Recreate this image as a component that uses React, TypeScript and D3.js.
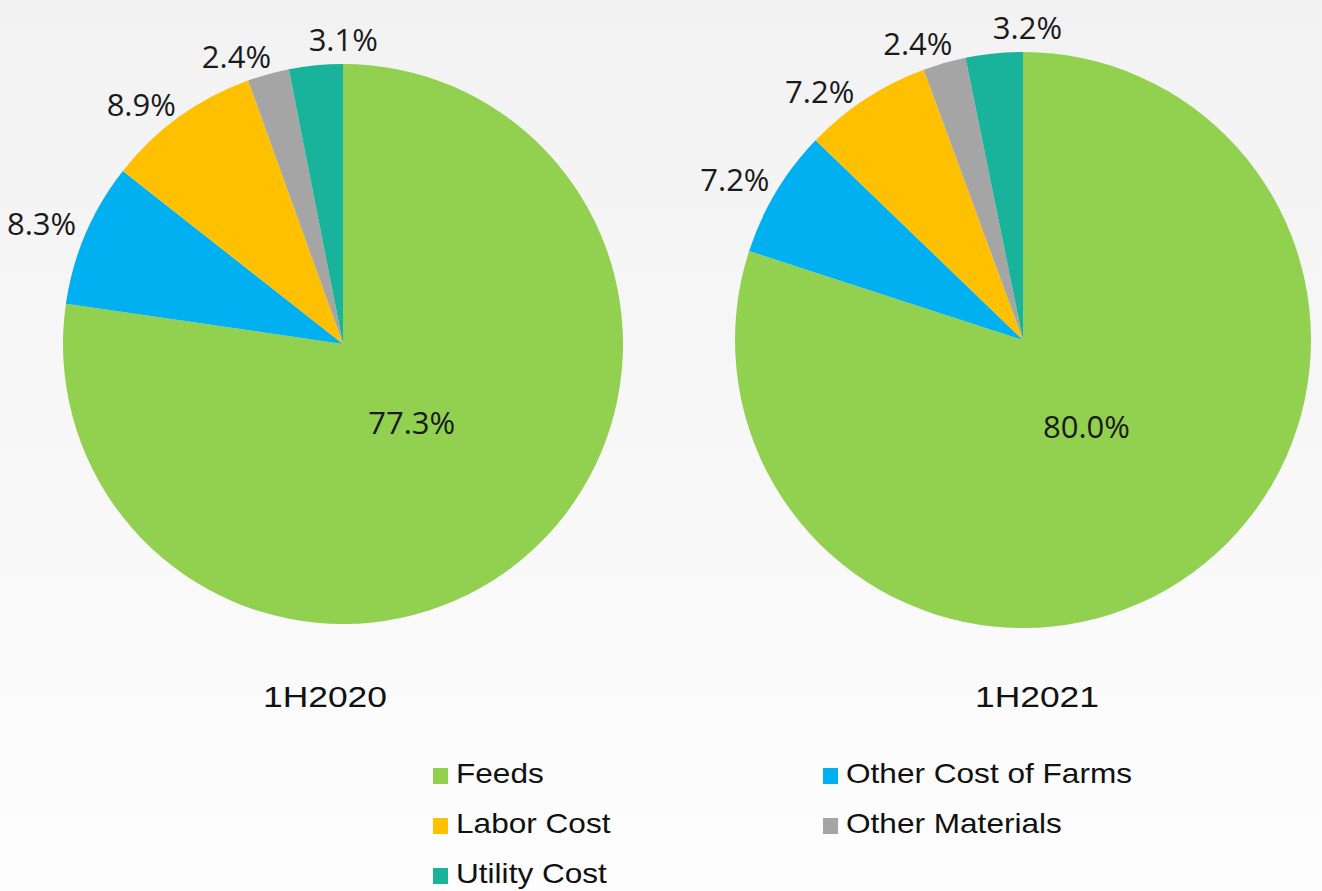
import React from "react";
import * as d3 from "d3";

const categories = ["Feeds", "Other Cost of Farms", "Labor Cost", "Other Materials", "Utility Cost"];
const colors = ["#92D050", "#00B0F0", "#FFC000", "#A5A5A5", "#19B39B"];
const periods = ["1H2020", "1H2021"];
const values2020 = [77.3, 8.3, 8.9, 2.4, 3.1];
const values2021 = [80.0, 7.2, 7.2, 2.4, 3.2];
const seriesValues = [values2020, values2021];

const W = 1322;
const H = 891;
const pieLayout = [
  { cx: 343, cy: 344, r: 280, titleX: 325 },
  { cx: 1023, cy: 340, r: 288, titleX: 1037 },
];
const titleY = 707;
const labelFont = "'Open Sans', 'Noto Sans', sans-serif";
const labelSize = 31;
const textFont = "'Liberation Sans', Arial, sans-serif";
const fmt = (v: number) => d3.format(".1f")(v) + "%";

function outerLabels(arcs: d3.PieArcDatum<number>[], r: number) {
  // mid angles normalised to (-pi, pi]
  const items = arcs.slice(1).map((a) => {
    let m = (a.startAngle + a.endAngle) / 2;
    if (m > Math.PI) m -= 2 * Math.PI;
    return { arc: a, angle: m };
  });
  items.sort((a, b) => b.angle - a.angle);
  const minSep = (19 * Math.PI) / 180;
  for (let k = 0; k < 200; k++) {
    for (let i = 0; i < items.length - 1; i++) {
      const gap = items[i].angle - items[i + 1].angle;
      if (gap < minSep) {
        const push = (minSep - gap) / 2;
        items[i].angle += push;
        items[i + 1].angle -= push;
      }
    }
  }
  const gapR = 12;
  const h = 23;
  return items.map((it) => {
    const label = fmt(it.arc.data);
    const w = label.length * 18;
    const s = Math.sin(it.angle);
    const c = -Math.cos(it.angle);
    const x = (r + gapR) * s + (s * w) / 2;
    const y = (r + gapR) * c + (c * h) / 2;
    return { x, y, label };
  });
}

export default function App() {
  const pie = d3.pie<number>().sort(null).value((d) => d);
  return (
    <svg
      width={W}
      height={H}
      viewBox={`0 0 ${W} ${H}`}
      style={{ position: "absolute", left: 0, top: 0, display: "block" }}
    >
      <defs>
        <linearGradient id="bg" x1="0" y1="0" x2="0" y2="1">
          <stop offset="0" stopColor="#f2f2f2" />
          <stop offset="1" stopColor="#fdfdfd" />
        </linearGradient>
      </defs>
      <rect x={0} y={0} width={W} height={H} fill="url(#bg)" />
      {seriesValues.map((vals, pi) => {
        const L = pieLayout[pi];
        const arcs = pie(vals);
        const arcGen = d3.arc<d3.PieArcDatum<number>>().innerRadius(0).outerRadius(L.r);
        const first = arcs[0];
        const inner = d3
          .arc<d3.PieArcDatum<number>>()
          .innerRadius(0)
          .outerRadius(L.r * 0.75)
          .centroid(first);
        const labels = outerLabels(arcs, L.r);
        return (
          <g key={pi}>
            <g transform={`translate(${L.cx},${L.cy})`}>
              {arcs.map((a, i) => (
                <path key={i} d={arcGen(a) || ""} fill={colors[i]} />
              ))}
              <text
                x={inner[0]}
                y={inner[1]}
                dy="0.35em"
                textAnchor="middle"
                fontFamily={labelFont}
                fontSize={labelSize}
                fill="#1a1a1a"
              >
                {fmt(first.data)}
              </text>
              {labels.map((l, i) => (
                <text
                  key={i}
                  x={l.x}
                  y={l.y}
                  dy="0.35em"
                  textAnchor="middle"
                  fontFamily={labelFont}
                  fontSize={labelSize}
                  fill="#1a1a1a"
                >
                  {l.label}
                </text>
              ))}
            </g>
            <g transform={`translate(${L.titleX},${titleY}) scale(1.18,1)`}>
              <text x={0} y={0} textAnchor="middle" fontFamily={textFont} fontSize={30} fill="#111">
                {periods[pi]}
              </text>
            </g>
          </g>
        );
      })}
      {categories.map((c, i) => {
        const col = i % 2;
        const row = Math.floor(i / 2);
        const x = [433, 823][col];
        const y = 768 + row * 50;
        return (
          <g key={c}>
            <rect x={x} y={y} width={15} height={16} fill={colors[i]} />
            <g transform={`translate(${x + 23},${y + 15}) scale(1.17,1)`}>
              <text x={0} y={0} fontFamily={textFont} fontSize={27} fill="#111">
                {c}
              </text>
            </g>
          </g>
        );
      })}
    </svg>
  );
}
